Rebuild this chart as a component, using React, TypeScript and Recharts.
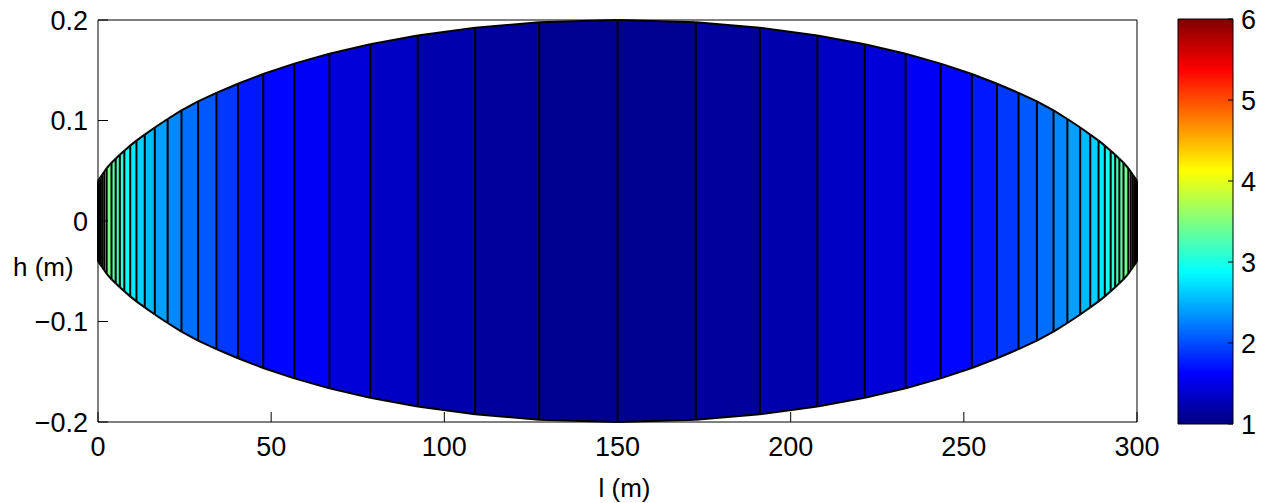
import { Area, ComposedChart, ReferenceLine, XAxis, YAxis } from "recharts";

// strip boundaries along the length (m)
const BOUNDARIES = [
  0, 0.3, 0.7, 1.2, 1.8, 2.5, 3.9, 5.1, 6.3, 7.6, 9.3, 11.1, 13.5, 16.4, 20.1, 24.1, 28.9,
  34.2, 40.4, 47.7, 56.7, 66.8, 78.6, 92.3, 108.9, 127.4, 150, 172.6, 191.1, 207.7, 221.4,
  233.2, 243.3, 252.3, 259.6, 265.8, 271.1, 275.9, 279.9, 283.6, 286.5, 288.9, 290.7, 292.4,
  293.7, 294.9, 296.1, 297.5, 298.2, 298.8, 299.3, 299.7, 300,
];

// half height of the section at each boundary (m)
const HALF_HEIGHTS = [
  0.04, 0.0415, 0.0435, 0.046, 0.049, 0.0525, 0.058, 0.062, 0.066, 0.07, 0.075, 0.08, 0.086,
  0.093, 0.1015, 0.11, 0.119, 0.1275, 0.1366, 0.1463, 0.1566, 0.1664, 0.1759, 0.1846, 0.1924,
  0.1977, 0.2, 0.1977, 0.1924, 0.1846, 0.1759, 0.1664, 0.1566, 0.1463, 0.1366, 0.1275, 0.119,
  0.11, 0.1015, 0.093, 0.086, 0.08, 0.075, 0.07, 0.066, 0.062, 0.058, 0.0525, 0.049, 0.046,
  0.0435, 0.0415, 0.04,
];

// value of each strip (colour scale 1..6)
const STRIP_VALUES = [
  3.95, 3.85, 3.75, 3.65, 3.55, 3.45, 3.32, 3.2, 3.08, 2.95, 2.78, 2.65, 2.53, 2.41, 2.29, 2.17,
  2.06, 1.9, 1.74, 1.65, 1.575, 1.43, 1.33, 1.22, 1.14, 1.08, 1.08, 1.14, 1.22, 1.33, 1.43,
  1.575, 1.65, 1.74, 1.9, 2.06, 2.17, 2.29, 2.41, 2.53, 2.65, 2.78, 2.95, 3.08, 3.2, 3.32, 3.45,
  3.55, 3.65, 3.75, 3.85, 3.95,
];

const X_TICKS = [0, 50, 100, 150, 200, 250, 300];
const Y_TICKS = [-0.2, -0.1, 0, 0.1, 0.2];
const COLOR_TICKS = [1, 2, 3, 4, 5, 6];
const COLOR_MIN = 1;
const COLOR_MAX = 6;

const FONT = "'Liberation Sans', Arial, Helvetica, sans-serif";
const tickStyle = { fill: "#000", fontSize: 27, fontFamily: FONT };
const labelStyle = { fill: "#000", fontSize: 26, fontFamily: FONT };
const LINE_W = 2;

function clamp01(v: number) {
  return Math.max(0, Math.min(1, v));
}

// matlab "jet" colormap
function jet(value: number) {
  const t = clamp01((value - COLOR_MIN) / (COLOR_MAX - COLOR_MIN));
  const r = clamp01(1.5 - Math.abs(4 * t - 3));
  const g = clamp01(1.5 - Math.abs(4 * t - 2));
  const b = clamp01(1.5 - Math.abs(4 * t - 1));
  const hex = (c: number) => Math.round(c * 255).toString(16).padStart(2, "0");
  return `#${hex(r)}${hex(g)}${hex(b)}`;
}

const fmtY = (v: number) => (v < 0 ? `\u2212${Math.abs(v)}` : String(v));
const blank = () => "";

const strips = STRIP_VALUES.map((value, i) => ({
  value,
  data: [
    { x: BOUNDARIES[i], band: [-HALF_HEIGHTS[i], HALF_HEIGHTS[i]] },
    { x: BOUNDARIES[i + 1], band: [-HALF_HEIGHTS[i + 1], HALF_HEIGHTS[i + 1]] },
  ],
}));

const colorBarData = [
  { x: 0, band: [COLOR_MIN, COLOR_MAX] },
  { x: 1, band: [COLOR_MIN, COLOR_MAX] },
];

function SectionChart() {
  return (
    <ComposedChart
      width={1260}
      height={495}
      margin={{ top: 11, right: 130, left: 0, bottom: 1 }}
      style={{ overflow: "visible" }}
    >
      <XAxis
        dataKey="x"
        type="number"
        domain={[0, 300]}
        ticks={X_TICKS}
        interval={0}
        stroke="#000"
        tickSize={-10}
        tickMargin={25}
        tick={tickStyle}
        height={80}
        label={{ value: "l (m)", position: "insideBottom", offset: 5, dx: 7, style: labelStyle }}
      />
      <XAxis
        xAxisId="top"
        orientation="top"
        type="number"
        domain={[0, 300]}
        ticks={X_TICKS}
        interval={0}
        stroke="#000"
        tickSize={-10}
        tickFormatter={blank}
        height={1}
      />
      <YAxis
        type="number"
        domain={[-0.2, 0.2]}
        ticks={Y_TICKS}
        interval={0}
        stroke="#000"
        tickSize={-10}
        tickMargin={20}
        tick={tickStyle}
        tickFormatter={fmtY}
        width={90}
        label={{ value: "h (m)", position: "insideLeft", offset: 5, dy: 46, style: labelStyle }}
      />
      <YAxis
        yAxisId="right"
        orientation="right"
        type="number"
        domain={[-0.2, 0.2]}
        ticks={Y_TICKS}
        interval={0}
        stroke="#000"
        tickSize={-10}
        tickFormatter={blank}
        width={1}
      />
      {strips.map((s, i) => (
        <Area
          key={`strip-${i}`}
          data={s.data}
          dataKey="band"
          type="linear"
          fill={jet(s.value)}
          fillOpacity={1}
          stroke="#000"
          strokeWidth={LINE_W}
          dot={false}
          activeDot={false}
          isAnimationActive={false}
        />
      ))}
      {BOUNDARIES.map((x, i) => (
        <ReferenceLine
          key={`edge-${i}`}
          segment={[
            { x, y: -HALF_HEIGHTS[i] },
            { x, y: HALF_HEIGHTS[i] },
          ]}
          stroke="#000"
          strokeWidth={LINE_W}
          ifOverflow="visible"
        />
      ))}
    </ComposedChart>
  );
}

function ColorBar() {
  return (
    <ComposedChart
      width={90}
      height={440}
      margin={{ top: 11, right: 0, left: 0, bottom: 24 }}
      style={{ overflow: "visible" }}
    >
      <defs>
        <linearGradient id="jetScale" x1="0" y1="0" x2="0" y2="1">
          {[1, 0.875, 0.625, 0.375, 0.125, 0].map((t) => (
            <stop key={t} offset={1 - t} stopColor={jet(COLOR_MIN + t * (COLOR_MAX - COLOR_MIN))} />
          ))}
        </linearGradient>
      </defs>
      <XAxis type="number" dataKey="x" domain={[0, 1]} hide />
      <YAxis
        yAxisId="cl"
        type="number"
        domain={[COLOR_MIN, COLOR_MAX]}
        ticks={COLOR_TICKS}
        interval={0}
        stroke="#000"
        tickSize={-5}
        tickFormatter={blank}
        width={1}
      />
      <YAxis
        yAxisId="cr"
        orientation="right"
        type="number"
        domain={[COLOR_MIN, COLOR_MAX]}
        ticks={COLOR_TICKS}
        interval={0}
        stroke="#000"
        tickSize={-5}
        tickMargin={13}
        tick={tickStyle}
        width={34}
      />
      <Area
        yAxisId="cr"
        data={colorBarData}
        dataKey="band"
        type="linear"
        fill="url(#jetScale)"
        fillOpacity={1}
        stroke="#000"
        strokeWidth={1}
        dot={false}
        activeDot={false}
        isAnimationActive={false}
      />
    </ComposedChart>
  );
}

export default function App() {
  return (
    <div style={{ position: "relative", width: 1260, height: 495, fontFamily: FONT }}>
      <SectionChart />
      <div style={{ position: "absolute", left: 1169, top: 0 }}>
        <ColorBar />
      </div>
    </div>
  );
}
